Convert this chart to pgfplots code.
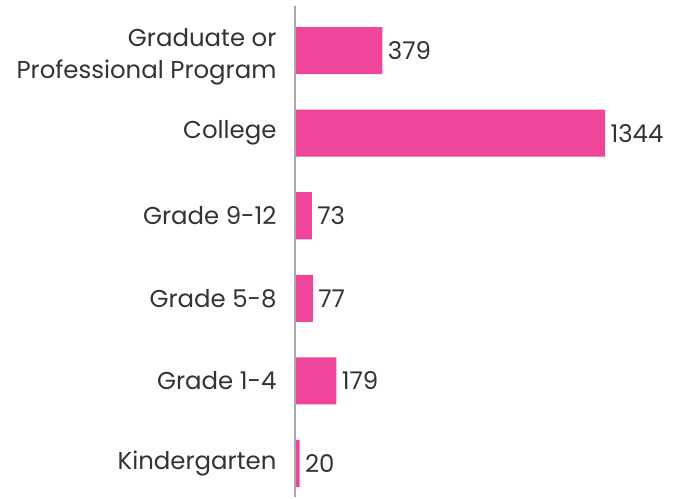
\documentclass[border=0pt]{standalone}
\usepackage{fontspec}
\setmainfont{Poppins}
\usepackage{pgfplots}
\pgfplotsset{compat=1.18}
\definecolor{barpink}{HTML}{EE4499}
\definecolor{txt}{HTML}{333333}
\definecolor{axgray}{HTML}{AAAAAA}
\begin{document}
\begin{tikzpicture}
\begin{axis}[
  name=ax,
  at={(0,0)}, anchor=south west,
  scale only axis,
  width=388bp, height=491bp,
  xbar, bar width=0.57,
  xmin=0, xmax=1682,
  ymin=-0.406, ymax=5.54,
  hide x axis,
  axis y line*=left,
  y axis line style={draw=none},
  major tick length=0pt,
  ytick={0,1,2,3,4},
  yticklabels={Kindergarten, Grade 1-4, Grade 5-8, Grade 9-12, College},
  extra y ticks={5},
  extra y tick labels={{Graduate or\\Professional Program}},
  extra y tick style={yticklabel style={yshift=-6bp}},
  yticklabel style={font=\fontsize{24.5}{32}\selectfont, text=txt, align=right, xshift=-15bp},
  nodes near coords,
  nodes near coords style={font=\fontsize{24.5}{25}\selectfont, text=txt, anchor=west, xshift=2bp},
  point meta=explicit symbolic,
  clip=false,
]
\addplot[fill=barpink, draw=none] coordinates {
  (20,0) [20]
  (179,1) [179]
  (77,2) [77]
  (73,3) [73]
  (1344,4) [1344]
  (379,5) [379]
};
\draw[axgray, line width=1.5bp] (axis cs:0,-0.406) -- (axis cs:0,5.54);
\end{axis}
\pgfresetboundingbox
\path (-295bp,-2bp) rectangle (388bp,497bp);
\end{tikzpicture}
\end{document}
